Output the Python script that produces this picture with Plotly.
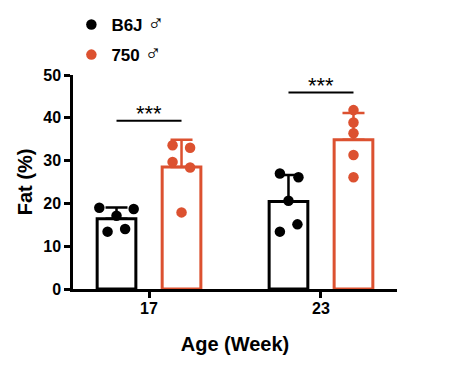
import numpy as np
import plotly.graph_objects as go

ages = ["17", "23"]
series_names = ["B6J ♂", "750 ♂"]
b6j_wk17 = [19.0, 18.7, 17.1, 13.4, 14.0]
b6j_wk23 = [27.0, 26.1, 20.6, 15.1, 13.4]
s750_wk17 = [33.6, 33.0, 29.7, 28.4, 17.9]
s750_wk23 = [41.8, 38.9, 36.4, 31.3, 26.1]
sig_labels = ["***", "***"]
sig_heights = [39.3, 45.9]
y_ticks = [0, 10, 20, 30, 40, 50]

BLACK = "#000000"
RED = "#DC5130"
FONT = "Arial, Liberation Sans, DejaVu Sans, sans-serif"

groups = [
    (series_names[0], [b6j_wk17, b6j_wk23], BLACK, -0.189,
     [[-0.10, 0.10, 0.0, -0.052, 0.05], [-0.05, 0.058, 0.0, 0.052, -0.05]]),
    (series_names[1], [s750_wk17, s750_wk23], RED, 0.189,
     [[-0.052, 0.05, -0.052, 0.05, 0.0], [0.0, 0.0, 0.0, 0.0, 0.0]]),
]


def legend_label(name):
    base, sym = name.rsplit(" ", 1)
    return f"{base} <span style='font-size:23px;font-weight:normal'>{sym}</span>"


fig = go.Figure()
BAR_W = 0.225
for gi, (name, data, color, off, jit) in enumerate(groups):
    means = [float(np.mean(d)) for d in data]
    sds = [float(np.std(d, ddof=1)) for d in data]
    xs = [i + off for i in range(len(ages))]
    fig.add_trace(go.Bar(
        x=xs, y=means, width=BAR_W,
        marker=dict(color="white", line=dict(color=color, width=3)),
        error_y=dict(type="data", array=sds, arrayminus=[0] * len(sds), symmetric=False,
                     color=color, thickness=2.5, width=11),
        showlegend=False, hoverinfo="skip",
    ))
    px, py = [], []
    for i, d in enumerate(data):
        for j, v in enumerate(d):
            px.append(i + off + jit[i][j])
            py.append(v)
    fig.add_trace(go.Scatter(
        x=px, y=py, mode="markers", name=legend_label(name),
        marker=dict(color=color, size=10.5, line=dict(width=0)),
        legendgroup=f"g{gi}",
    ))

# significance brackets
for i, (lab, h) in enumerate(zip(sig_labels, sig_heights)):
    fig.add_shape(type="line", x0=i - 0.189, x1=i + 0.189, y0=h, y1=h,
                  line=dict(color=BLACK, width=2))
    fig.add_annotation(x=i, y=h, text=lab, showarrow=False, yanchor="bottom", yshift=-7,
                       font=dict(family=FONT, size=22, color=BLACK))

axis_font = dict(family=FONT, size=16, color=BLACK, weight="bold")
title_font = dict(family=FONT, size=20, color=BLACK, weight="bold")
fig.update_layout(
    width=443, height=362,
    margin=dict(l=65, r=54, t=67, b=81, autoexpand=False),
    paper_bgcolor="white", plot_bgcolor="white",
    barmode="overlay",
    showlegend=True,
    legend=dict(x=-0.005, y=1.318, xanchor="left", yanchor="top",
                font=dict(family=FONT, size=17, color=BLACK, weight="bold"),
                tracegroupgap=5, traceorder="grouped", bgcolor="rgba(0,0,0,0)"),
    xaxis=dict(range=[-0.442, 1.442], tickvals=[0, 1], ticktext=ages,
               showline=True, linecolor=BLACK, linewidth=2.5,
               ticks="outside", ticklen=6, tickwidth=2.5, tickcolor=BLACK,
               ticklabelstandoff=-3,
               showgrid=False, zeroline=False, tickfont=axis_font,
               title=dict(text="Age (Week)", font=title_font, standoff=22)),
    yaxis=dict(range=[0, 50], tickvals=y_ticks,
               showline=True, linecolor=BLACK, linewidth=2.5,
               ticks="outside", ticklen=6, tickwidth=2.5, tickcolor=BLACK,
               showgrid=False, zeroline=False, tickfont=axis_font,
               title=dict(text="Fat (%)", font=title_font, standoff=6)),
)

fig.write_html("out.html")
